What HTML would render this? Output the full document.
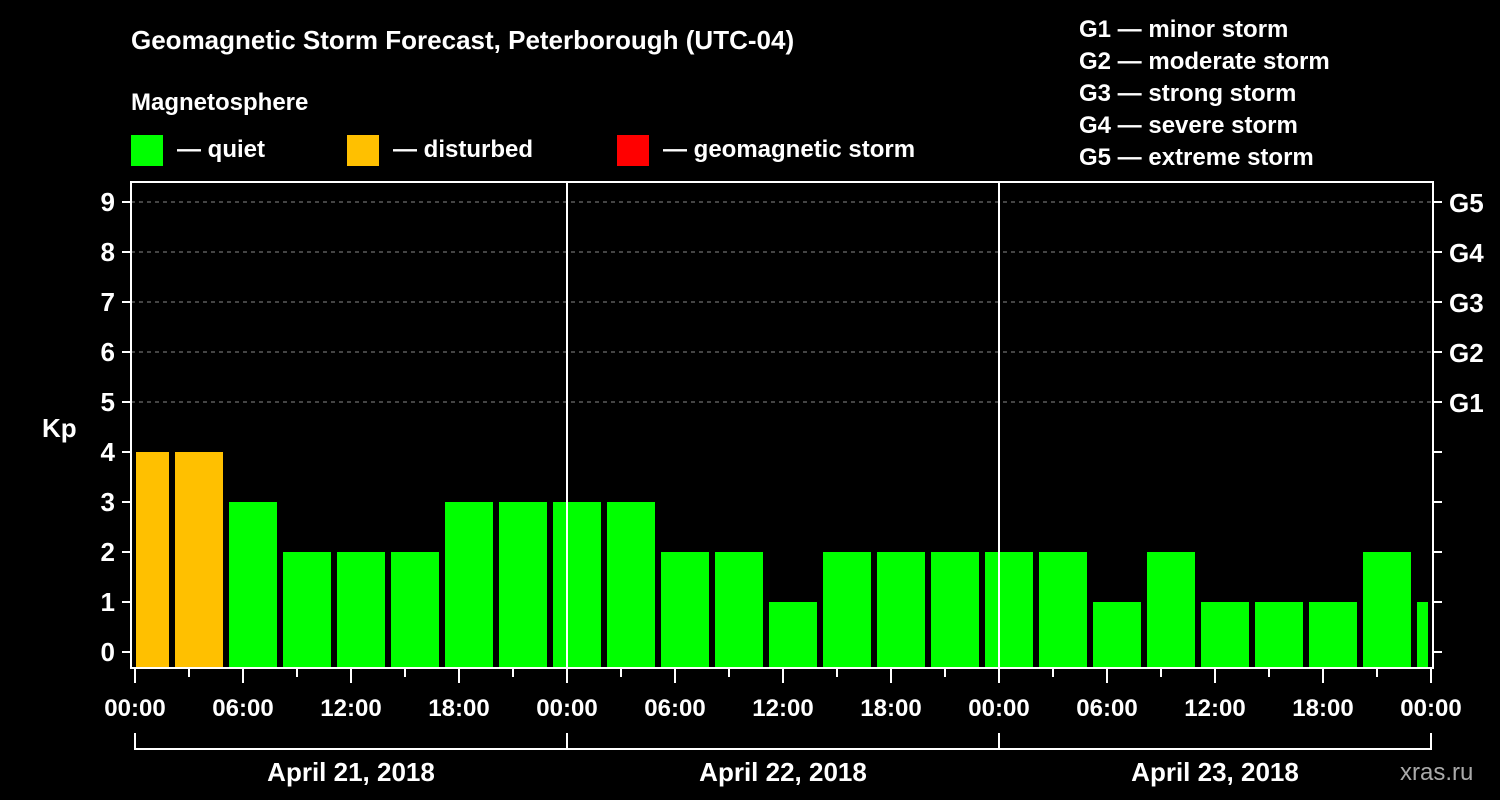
<!DOCTYPE html>
<html><head><meta charset="utf-8"><style>
body{margin:0;background:#000;}
svg{display:block;font-family:"Liberation Sans",Arial,sans-serif;font-weight:bold;}
</style></head><body>
<svg width="1500" height="800" viewBox="0 0 1500 800">
<rect width="1500" height="800" fill="#000"/>
<text x="131" y="49" fill="#fff" font-size="26">Geomagnetic Storm Forecast, Peterborough (UTC-04)</text>
<text x="131" y="110" fill="#fff" font-size="24">Magnetosphere</text>
<g><rect x="131" y="135" width="32" height="31" fill="#00ff00"/><text x="177" y="157" fill="#fff" font-size="24">— quiet</text></g>
<g><rect x="347" y="135" width="32" height="31" fill="#ffc000"/><text x="393" y="157" fill="#fff" font-size="24">— disturbed</text></g>
<g><rect x="617" y="135" width="32" height="31" fill="#ff0000"/><text x="663" y="157" fill="#fff" font-size="24">— geomagnetic storm</text></g>
<g fill="#fff" font-size="24">
<text x="1079" y="37">G1 — minor storm</text>
<text x="1079" y="69">G2 — moderate storm</text>
<text x="1079" y="101">G3 — strong storm</text>
<text x="1079" y="133">G4 — severe storm</text>
<text x="1079" y="165">G5 — extreme storm</text>
</g>
<text x="42" y="437" fill="#fff" font-size="26">Kp</text>
<defs><clipPath id="pc"><rect x="136" y="182" width="1292" height="486"/></clipPath></defs>
<g id="grid"></g>
<g id="bars" clip-path="url(#pc)"></g>
<g id="axes"></g>
<text x="1400" y="780" fill="#aaa" font-size="24" font-weight="normal">xras.ru</text>
</svg>
<script>
const kpValues=[4,4,3,2,2,2,3,3,3,3,2,2,1,2,2,2,2,2,1,2,1,1,1,2,1];
const timeLabels=["00:00","06:00","12:00","18:00","00:00","06:00","12:00","18:00","00:00","06:00","12:00","18:00","00:00"];
const dayLabels=["April 21, 2018","April 22, 2018","April 23, 2018"];
const gLabels=["G1","G2","G3","G4","G5"];
const NS="http://www.w3.org/2000/svg";
const L=131,R=1433,T=182,B=668,X0=135,slot=54;
const y=v=>652-50*v;
const x=h=>X0+h*18; // h in hours
function mk(tag,attrs,parent,txt){const e=document.createElementNS(NS,tag);for(const k in attrs)e.setAttribute(k,attrs[k]);if(txt!==undefined)e.textContent=txt;parent.appendChild(e);return e;}
const grid=document.getElementById('grid'),bars=document.getElementById('bars'),axes=document.getElementById('axes');
for(let v=5;v<=9;v++){const l=mk('line',{x1:L,x2:R,y1:y(v),y2:y(v),stroke:'#888','stroke-dasharray':'4,4','stroke-width':1},grid);

}
kpValues.forEach((v,i)=>{const bx=x(3*i)-15;const r=mk('rect',{x:bx+1,y:y(v),width:48,height:B-y(v)-1,fill:v>=5?'#ff0000':(v>=4?'#ffc000':'#00ff00')},bars);

});
const fr=mk('rect',{x:L,y:T,width:R-L,height:B-T,fill:'none',stroke:'#fff','stroke-width':2},axes);


[1,2].forEach(d=>{const l=mk('line',{x1:x(24*d),x2:x(24*d),y1:T,y2:B,stroke:'#fff','stroke-width':2},axes);

});
for(let v=0;v<=9;v++){mk('line',{x1:122,x2:L,y1:y(v),y2:y(v),stroke:'#fff','stroke-width':2},axes);
mk('line',{x1:R,x2:1442,y1:y(v),y2:y(v),stroke:'#fff','stroke-width':2},axes);
const t=mk('text',{x:115,y:y(v)+9,fill:'#fff','font-size':26,'text-anchor':'end'},axes,String(v));

}
gLabels.forEach((g,i)=>{const t=mk('text',{x:1449,y:y(5+i)+10,fill:'#fff','font-size':26},axes,g);

});
for(let k=0;k<=24;k++){const xx=x(3*k);mk('line',{x1:xx,x2:xx,y1:B,y2:k%2?677:683,stroke:'#fff','stroke-width':2},axes);}
timeLabels.forEach((s,i)=>{const t=mk('text',{x:x(6*i),y:716,fill:'#fff','font-size':24,'text-anchor':'middle'},axes,s);

});
mk('line',{x1:x(0),x2:x(72),y1:749,y2:749,stroke:'#fff','stroke-width':2},axes);
for(let d=0;d<=3;d++)mk('line',{x1:x(24*d),x2:x(24*d),y1:733,y2:750,stroke:'#fff','stroke-width':2},axes);
dayLabels.forEach((s,i)=>{const t=mk('text',{x:x(24*i+12),y:781,fill:'#fff','font-size':26,'text-anchor':'middle'},axes,s);

});
</script>
</body></html>
